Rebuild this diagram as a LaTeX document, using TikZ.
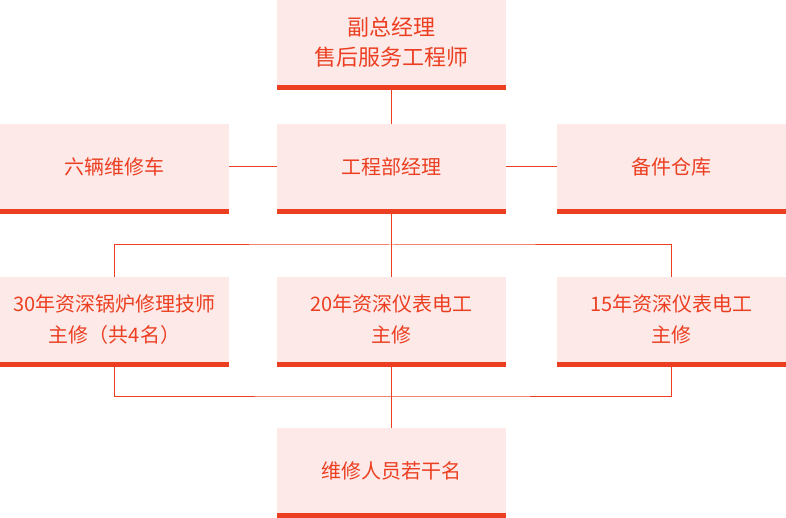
\documentclass[tikz,border=0pt]{standalone}
\usepackage{fontspec}
\newfontfamily\cjk{Noto Sans CJK SC}
\definecolor{ored}{HTML}{EC3F22}
\definecolor{opink}{HTML}{FDEAE8}
\begin{document}
\begin{tikzpicture}[x=1pt,y=1pt,
  box/.style={fill=opink, minimum width=229pt, minimum height=85pt, inner sep=0pt,
    align=center, text=ored, font=\cjk\fontsize{20}{31}\selectfont},
  dbox/.style={box, font=\cjk\fontsize{22}{30}\selectfont},
  conn/.style={draw=ored, line width=1pt}]
\useasboundingbox (0,0) rectangle (786,-518);
\node[dbox] (top) at (391.5,-42.5) {副总经理\\售后服务工程师};
\node[box] (veh) at (114.5,-166.5) {六辆维修车};
\node[box] (mgr) at (391.5,-166.5) {工程部经理};
\node[box] (spare) at (671.5,-166.5) {备件仓库};
\node[box] (b30) at (114.5,-319.5) {30年资深锅炉修理技师\\主修（共4名）};
\node[box] (e20) at (391.5,-319.5) {20年资深仪表电工\\主修};
\node[box] (e15) at (671.5,-319.5) {15年资深仪表电工\\主修};
\node[box] (crew) at (391.5,-470.5) {维修人员若干名};
\coordinate (busT) at (391.5,-245);
\coordinate (busB) at (391.5,-396);
\draw[conn] (top.south) -- (mgr.north);
\draw[conn] (veh.east) -- (mgr.west);
\draw[conn] (mgr.east) -- (spare.west);
\draw[conn] (mgr.south) -- (busT);
\draw[conn] (b30.north) |- (busT) -| (e15.north);
\draw[conn] (busT) -- (e20.north);
\draw[conn] (b30.south) |- (busB) -| (e15.south);
\draw[conn] (e20.south) -- (crew.north);
\foreach \n in {top,veh,mgr,spare,b30,e20,e15,crew}
  \fill[ored] (\n.south west) rectangle ([yshift=-5pt]\n.south east);
\end{tikzpicture}
\end{document}
